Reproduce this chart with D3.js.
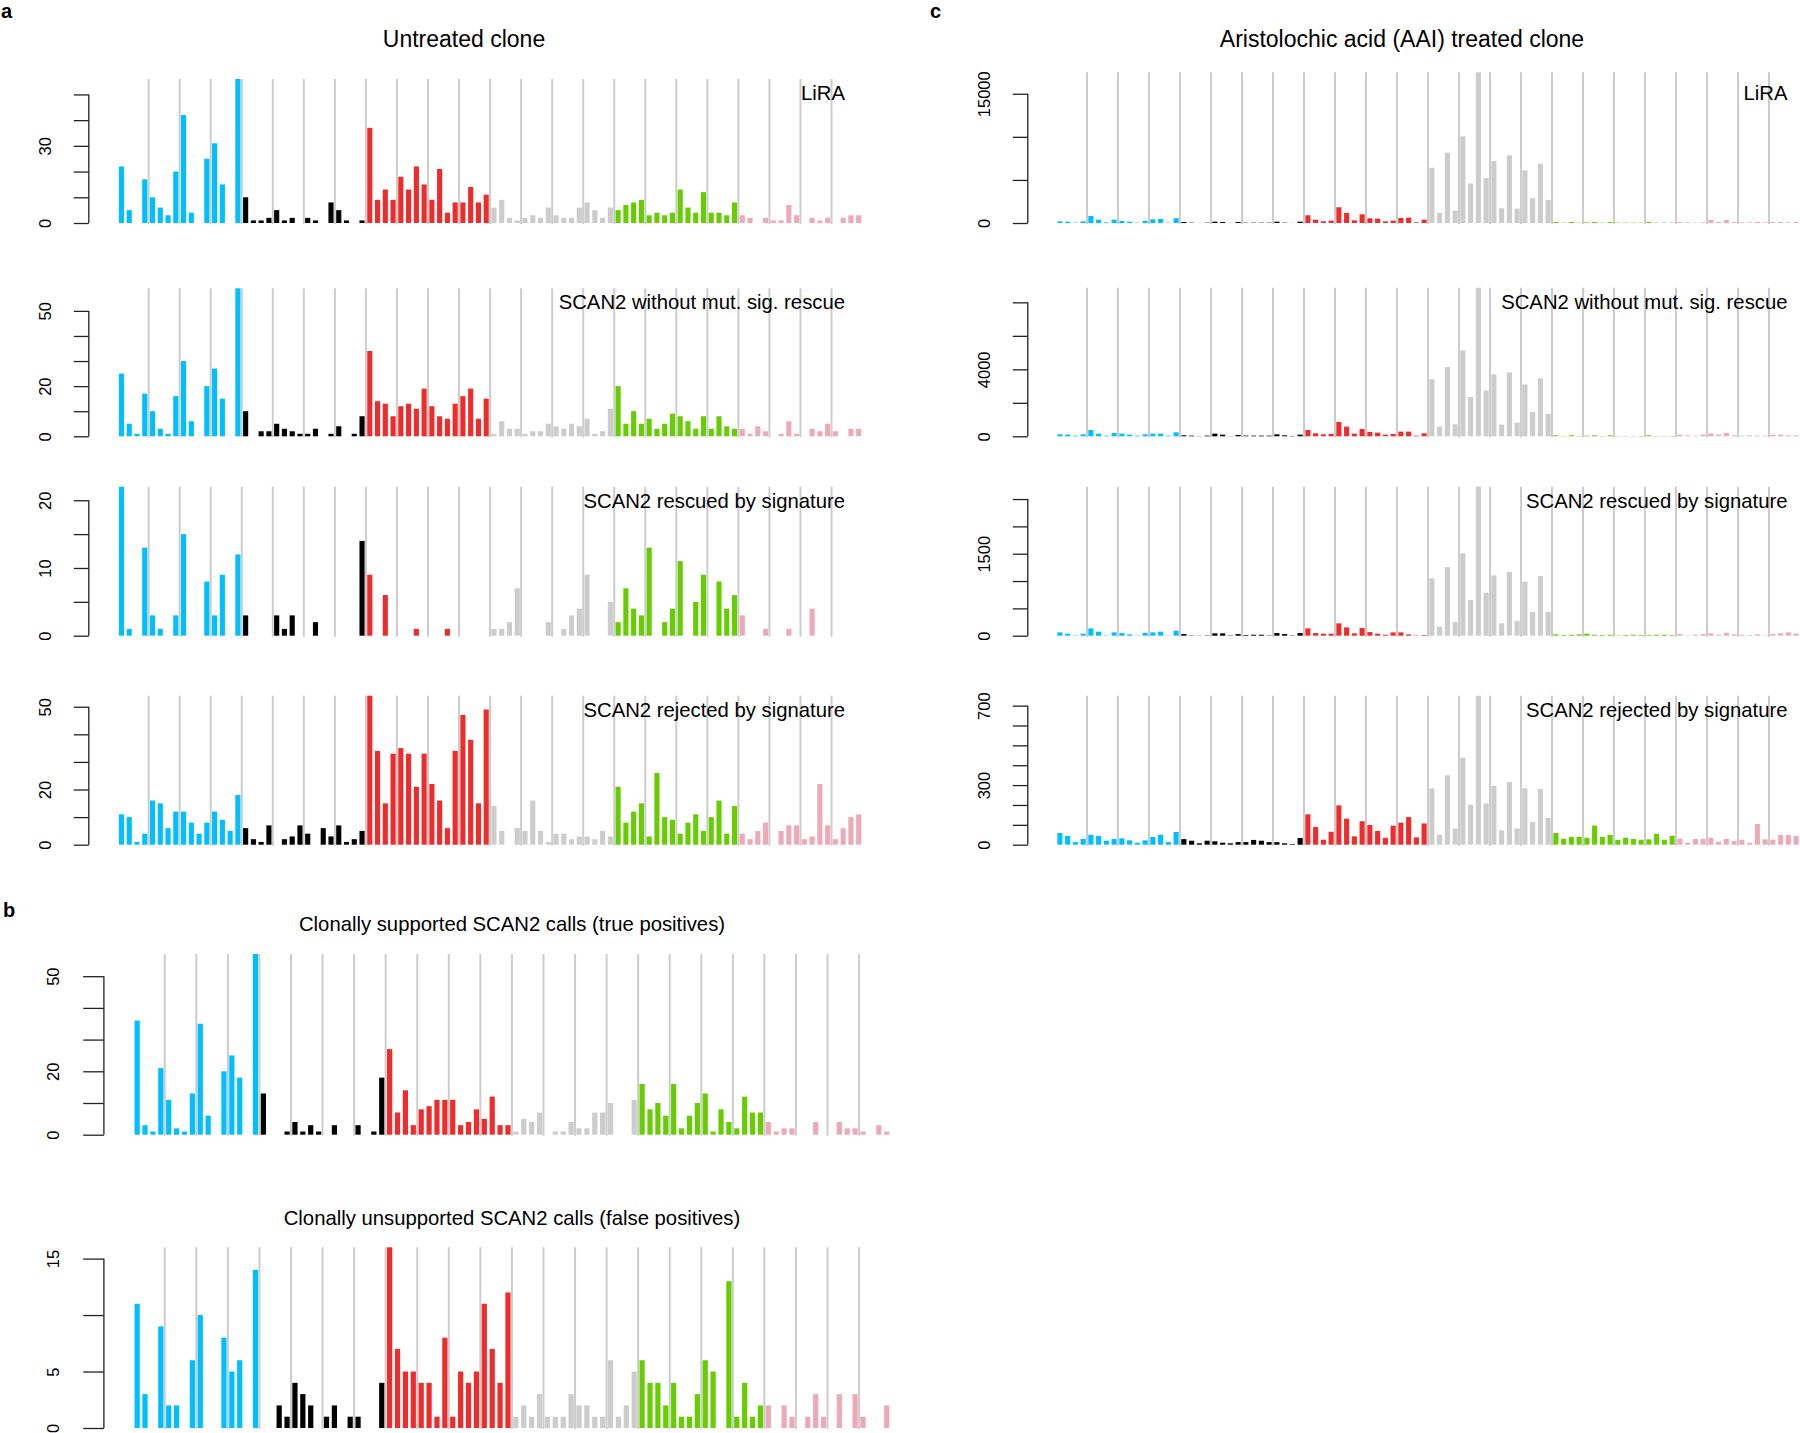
<!DOCTYPE html>
<html><head><meta charset="utf-8">
<script src="https://cdn.jsdelivr.net/npm/d3@7"></script>
<style>
html,body{margin:0;padding:0;background:#fff;}
svg{display:block;font-family:"Liberation Sans",Arial,Helvetica,sans-serif;}
</style></head><body>
<svg id="chart" width="1800" height="1433"></svg>
<script>
// ---------- categories ----------
const mutationTypes = ["C>A","C>G","C>T","T>A","T>C","T>G"];
const typeColors = ["#00BFFF","#000000","#EE2C2C","#CCCCCC","#66CD00","#EEA9B8"];
const bases = ["A","C","G","T"];
const categories = [];
mutationTypes.forEach(t => bases.forEach(l => bases.forEach(r => categories.push(l + "[" + t + "]" + r))));

// ---------- data (96 values each: C>A, C>G, C>T, T>A, T>C, T>G) ----------
const untreatedLiRA = [
  22,5,0,17,10,6,3,20,42,4,0,25,31,15,0,56,
  10,1,1,2,5,1,2,0,2,1,0,8,5,1,0,1,
  37,9,13,9,18,13,22,15,9,21,4,8,8,14,8,11,
  6,9,2,1,2,3,2,6,3,2,2,6,8,5,2,6,
  5,7,8,9,3,4,3,4,13,6,4,12,4,4,3,8,
  3,2,0,2,1,1,7,3,0,2,1,2,0,2,3,3];
const untreatedScan2NoRescue = [
  25,5,1,17,10,3,1,16,30,6,0,20,27,15,0,59,
  10,0,2,2,5,3,2,1,1,3,0,1,4,0,1,8,
  34,14,13,8,12,13,11,19,12,8,7,13,16,19,7,15,
  1,6,3,3,1,2,2,5,4,3,5,4,7,1,2,11,
  20,5,10,5,7,3,5,9,8,6,3,8,3,8,4,3,
  3,1,4,2,0,1,6,1,0,3,2,5,2,0,3,3];
const untreatedScan2Rescued = [
  22,1,0,13,3,1,0,3,15,0,0,8,3,9,0,12,
  3,0,0,0,3,1,3,0,0,2,0,0,0,0,0,14,
  9,0,6,0,0,0,1,0,0,0,1,0,0,0,0,0,
  1,1,2,7,0,0,0,2,0,1,3,4,9,0,0,5,
  2,7,4,3,13,0,2,4,11,0,5,9,0,8,4,6,
  3,0,0,1,0,0,1,0,0,4,0,0,0,0,0,0];
const untreatedScan2Rejected = [
  11,10,1,4,16,15,6,12,12,8,4,8,12,9,5,18,
  6,2,1,7,0,2,3,7,4,0,6,3,7,1,2,5,
  54,34,15,33,35,33,21,33,22,16,6,34,47,38,15,49,
  14,5,0,6,5,16,5,1,4,4,2,3,3,2,5,3,
  21,8,12,15,3,26,10,9,4,8,11,5,10,16,4,14,
  4,2,5,8,0,5,7,7,2,3,22,7,2,6,10,11];
const aaiLiRA = [
  194,155,39,194,816,389,78,389,233,155,39,233,427,466,39,544,
  117,39,10,39,155,117,10,117,39,39,39,39,155,39,10,155,
  894,389,194,272,1826,1166,311,1010,544,505,194,272,583,622,78,389,
  6410,1170,8160,1440,10070,4590,17490,5210,7190,1710,7850,1670,6100,2880,6880,2680,
  117,39,117,39,78,117,39,117,39,39,39,39,117,39,39,39,
  117,78,39,78,350,117,350,117,78,78,117,78,117,117,78,117];
const aaiScan2NoRescue = [
  119,100,40,119,378,159,40,199,159,100,40,119,159,159,40,239,
  60,40,10,40,159,100,10,80,40,40,40,40,119,60,20,100,
  378,179,119,139,856,577,159,438,259,219,100,139,279,279,40,179,
  3400,580,4140,720,5130,2350,8875,2730,3700,700,3820,820,3100,1450,3460,1330,
  60,20,60,20,40,60,20,60,20,20,20,20,60,20,20,20,
  100,60,40,100,159,100,199,60,40,60,40,40,100,100,60,60];
const aaiScan2Rescued = [
  61,37,6,37,134,73,6,61,49,24,6,49,61,73,6,91,
  30,6,3,6,43,43,6,30,12,18,18,6,49,30,6,49,
  134,49,37,37,226,152,43,140,67,37,18,61,61,24,6,12,
  1050,165,1256,250,1506,652,2726,787,1104,226,1165,268,988,433,1092,433,
  24,12,18,24,37,18,12,18,6,12,18,12,12,18,18,12,
  30,6,18,30,43,18,55,24,18,12,24,6,30,43,61,40];
const aaiScan2Rejected = [
  59,44,13,29,50,44,20,29,32,22,10,22,39,50,13,64,
  28,20,7,20,17,10,7,13,13,24,20,13,13,7,3,34,
  153,89,25,65,198,131,42,118,99,69,34,96,111,139,37,107,
  284,50,349,82,438,201,750,208,297,72,315,82,284,114,280,136,
  59,30,39,40,35,96,39,50,24,35,29,25,27,55,25,45,
  30,10,29,29,35,15,29,18,25,10,104,27,25,49,49,45];
const clonallySupported = [
  36,3,1,21,11,2,1,13,35,6,0,20,25,18,0,57,
  13,0,0,1,4,1,3,1,0,3,0,0,3,0,1,18,
  27,7,14,3,8,9,11,11,11,3,4,8,5,12,3,3,
  1,5,4,7,0,1,1,4,2,2,7,7,10,0,0,11,
  16,8,10,6,16,2,6,10,13,1,8,4,2,12,7,7,
  4,1,2,2,0,0,4,0,0,4,2,2,1,0,3,1];
const clonallyUnsupported = [
  11,3,0,9,2,2,0,6,10,0,0,8,5,6,0,14,
  0,0,2,1,4,3,2,0,1,2,0,1,1,0,0,4,
  16,7,5,5,4,4,1,8,1,5,4,5,11,7,4,12,
  1,2,1,3,1,1,1,3,2,2,1,1,6,1,2,5,
  6,4,4,2,4,1,1,3,6,5,0,13,1,4,1,2,
  2,0,2,1,0,1,3,1,0,3,0,3,1,0,0,2];

// ---------- axis ticks and labels ----------
const ticksA1 = [0,10,20,30,40,50],  labelsA1 = [0,30];
const ticksA2 = [0,10,20,30,40,50],  labelsA2 = [0,20,50];
const ticksA3 = [0,5,10,15,20],      labelsA3 = [0,10,20];
const ticksA4 = [0,10,20,30,40,50],  labelsA4 = [0,20,50];
const ticksC1 = [0,5000,10000,15000], labelsC1 = [0,15000];
const ticksC2 = [0,2000,4000,6000,8000], labelsC2 = [0,4000];
const ticksC3 = [0,500,1000,1500,2000,2500], labelsC3 = [0,1500];
const ticksC4 = [0,100,200,300,400,500,600,700], labelsC4 = [0,300,700];
const ticksB1 = [0,10,20,30,40,50],  labelsB1 = [0,20,50];
const ticksB2 = [0,5,10,15],         labelsB2 = [0,5,15];

const panelNames = ["LiRA","SCAN2 without mut. sig. rescue","SCAN2 rescued by signature","SCAN2 rejected by signature"];

// ---------- layout ----------
const colA = {x0:117.6, step:7.76, axisX:88.8, tickLen:15, labelOff:44, labelRight:845};
const colC = {x0:1056, step:7.75, axisX:1027.8, tickLen:15, labelOff:44, labelRight:1787.5};
const colB = {x0:133.2, step:7.89, axisX:103.9, tickLen:20.7, labelOff:51.4, labelRight:null};
const rowsAC = [
  {base:223, topA:79, topC:72.3, labelBase:100},
  {base:436.3, topA:288.3, topC:287.7, labelBase:309.3},
  {base:635.7, topA:486.7, topC:486.7, labelBase:507.7},
  {base:844.7, topA:695.7, topC:695.7, labelBase:716.5}];

const panels = [
  Object.assign({}, colA, {data:untreatedLiRA, base:rowsAC[0].base, top:rowsAC[0].topA, ticks:ticksA1, labels:labelsA1, name:panelNames[0], labelBase:rowsAC[0].labelBase}),
  Object.assign({}, colA, {data:untreatedScan2NoRescue, base:rowsAC[1].base, top:rowsAC[1].topA, ticks:ticksA2, labels:labelsA2, name:panelNames[1], labelBase:rowsAC[1].labelBase}),
  Object.assign({}, colA, {data:untreatedScan2Rescued, base:rowsAC[2].base, top:rowsAC[2].topA, ticks:ticksA3, labels:labelsA3, name:panelNames[2], labelBase:rowsAC[2].labelBase}),
  Object.assign({}, colA, {data:untreatedScan2Rejected, base:rowsAC[3].base, top:rowsAC[3].topA, ticks:ticksA4, labels:labelsA4, name:panelNames[3], labelBase:rowsAC[3].labelBase}),
  Object.assign({}, colC, {data:aaiLiRA, base:rowsAC[0].base, top:rowsAC[0].topC, ticks:ticksC1, labels:labelsC1, name:panelNames[0], labelBase:rowsAC[0].labelBase}),
  Object.assign({}, colC, {data:aaiScan2NoRescue, base:rowsAC[1].base, top:rowsAC[1].topC, ticks:ticksC2, labels:labelsC2, name:panelNames[1], labelBase:rowsAC[1].labelBase}),
  Object.assign({}, colC, {data:aaiScan2Rescued, base:rowsAC[2].base, top:rowsAC[2].topC, ticks:ticksC3, labels:labelsC3, name:panelNames[2], labelBase:rowsAC[2].labelBase}),
  Object.assign({}, colC, {data:aaiScan2Rejected, base:rowsAC[3].base, top:rowsAC[3].topC, ticks:ticksC4, labels:labelsC4, name:panelNames[3], labelBase:rowsAC[3].labelBase}),
  Object.assign({}, colB, {data:clonallySupported, base:1134.7, top:954, ticks:ticksB1, labels:labelsB1, name:null}),
  Object.assign({}, colB, {data:clonallyUnsupported, base:1428, top:1247.3, ticks:ticksB2, labels:labelsB2, name:null})
];

const svg = d3.select("#chart");
const padInner = 0.34;

panels.forEach(p => {
  const g = svg.append("g");
  const x = d3.scaleBand().domain(d3.range(categories.length))
    .range([p.x0, p.x0 + categories.length * p.step])
    .paddingInner(padInner).paddingOuter(padInner / 2);
  const ymax = d3.max(p.data);
  const y = d3.scaleLinear().domain([0, ymax]).range([p.base, p.top]);

  // grey separators every 4 contexts
  const seps = d3.range(1, categories.length / 4);
  g.selectAll("line.sep").data(seps).join("line")
    .attr("class","sep")
    .attr("x1", k => x(4*k) - x.step()*padInner/2)
    .attr("x2", k => x(4*k) - x.step()*padInner/2)
    .attr("y1", y(ymax)).attr("y2", y(0) + 1)
    .attr("stroke", "#CCCCCC").attr("stroke-width", 2);

  // bars
  g.selectAll("rect.bar").data(p.data).join("rect")
    .attr("class","bar")
    .attr("x", (d,i) => x(i))
    .attr("width", x.bandwidth())
    .attr("y", d => y(d))
    .attr("height", d => y(0) - y(d))
    .attr("fill", (d,i) => typeColors[Math.floor(i / 16)]);

  // y axis
  const ax = g.append("g").attr("transform", `translate(${p.axisX},0)`)
    .call(d3.axisLeft(y).tickValues(p.ticks).tickSize(p.tickLen)
      .tickFormat(d => p.labels.includes(d) ? String(d) : ""));
  ax.select(".domain").remove();
  ax.selectAll(".tick line").attr("stroke","#222").attr("stroke-width",1.3);
  ax.selectAll(".tick text")
    .attr("x", null).attr("dy", null)
    .attr("transform", `translate(${-p.labelOff},0) rotate(-90)`)
    .attr("text-anchor","middle")
    .attr("dominant-baseline","central")
    .attr("font-size","16.5px")
    .attr("font-family",'"Liberation Sans",Arial,Helvetica,sans-serif')
    .attr("fill","#000");
  ax.append("line").attr("x1",0).attr("x2",0)
    .attr("y1", y(0)).attr("y2", y(d3.max(p.ticks)))
    .attr("stroke","#222").attr("stroke-width",1.3);

  if (p.name) {
    g.append("text").attr("x", p.labelRight).attr("y", p.labelBase)
      .attr("text-anchor","end").attr("font-size","20.3px").attr("fill","#000")
      .text(p.name);
  }
});

// ---------- titles ----------
const titles = [
  {t:"Untreated clone", x:464, y:47, s:23},
  {t:"Aristolochic acid (AAI) treated clone", x:1402, y:47, s:23},
  {t:"Clonally supported SCAN2 calls (true positives)", x:512, y:931, s:20.3},
  {t:"Clonally unsupported SCAN2 calls (false positives)", x:512, y:1225, s:20.3}
];
svg.selectAll("text.title").data(titles).join("text").attr("class","title")
  .attr("x", d => d.x).attr("y", d => d.y).attr("text-anchor","middle")
  .attr("font-size", d => d.s + "px").attr("fill","#000").text(d => d.t);

const letters = [{t:"a", x:1, y:18}, {t:"c", x:930, y:18}, {t:"b", x:3, y:917}];
svg.selectAll("text.letter").data(letters).join("text").attr("class","letter")
  .attr("x", d => d.x).attr("y", d => d.y)
  .attr("font-size","20px").attr("font-weight","bold").attr("fill","#000").text(d => d.t);
</script>
</body></html>
